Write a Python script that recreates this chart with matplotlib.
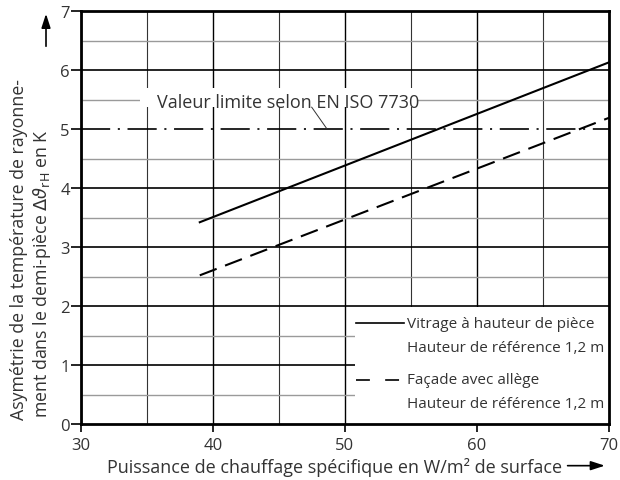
import matplotlib
matplotlib.use("Agg")
import matplotlib.pyplot as plt
from matplotlib.patches import Rectangle, FancyArrowPatch
import numpy as np

# values
x_range = [39, 70]
vitrage = [3.42, 6.13]
facade = [2.52, 5.19]
limit_value = 5.0
x_ticks = [30, 40, 50, 60, 70]
y_ticks = [0, 1, 2, 3, 4, 5, 6, 7]

limit_label = "Valeur limite selon EN ISO 7730"
legend_labels = [("Vitrage à hauteur de pièce", "Hauteur de référence 1,2 m"),
                 ("Façade avec allège", "Hauteur de référence 1,2 m")]
y_label_1 = "Asymétrie de la température de rayonne-"
y_label_2 = r"ment dans le demi-pièce $\Delta\vartheta_{\mathrm{rH}}$ en K"
x_label = "Puissance de chauffage spécifique en W/m² de surface"

plt.rcParams['font.family'] = ['Open Sans', 'DejaVu Sans']
plt.rcParams['mathtext.fontset'] = 'dejavusans'
plt.rcParams['lines.scale_dashes'] = False
txt = '#333333'

fig = plt.figure(figsize=(6.2, 4.81), dpi=100)
ax = fig.add_axes([0.1306, 0.1164, 0.8516, 0.8586])
ax.set_xlim(30, 70)
ax.set_ylim(0, 7)
renderer = fig.canvas.get_renderer()


def fit(t, target, vertical=False):
    # scale the font so the text spans the same number of pixels as in the reference
    bb = t.get_window_extent(renderer)
    size = bb.height if vertical else bb.width
    t.set_fontsize(t.get_fontsize() * target / size)


# grid
for xv in np.arange(30, 71, 5):
    major = xv % 10 == 0
    ax.axvline(xv, color='black' if major else '#333333', lw=1.0 if major else 0.8, zorder=1)
for yv in np.arange(0.5, 7, 0.5):
    if yv == limit_value:
        continue
    major = yv % 1 == 0
    ax.axhline(yv, color='black' if major else '#9a9a9a', lw=1.2 if major else 1.0, zorder=1)

# curves
ax.plot(x_range, vitrage, color='black', lw=1.5, zorder=4)
ax.plot(x_range, facade, color='black', lw=1.5, ls=(0, (13, 6.5)), zorder=4)
ax.axhline(limit_value, color='black', lw=1.2, ls=(0, (21, 5.5, 1.5, 5.5)), zorder=4)

# limit value label with white mask and leader line
ax.add_patch(Rectangle((34.47, 5.37), 21.1, 0.32, fc='white', ec='none', zorder=2))
t = ax.text(35.73, 5.37, limit_label, fontsize=13, color=txt, va='baseline', ha='left', zorder=3)
fit(t, 261)
ax.plot([47.48, 48.61], [5.37, 5.01], color='#333333', lw=0.7, zorder=4)

# legend box (white area in the lower right)
ax.add_patch(Rectangle((50.75, 0), 19.25, 1.985, fc='white', ec='none', zorder=2))
styles = ['-', (0, (10, 11))]
ys = [(1.71, 1.30), (0.746, 0.34)]
probe = ax.text(0, 0, legend_labels[0][1], fontsize=12)
fit(probe, 195)
leg_size = probe.get_fontsize()
probe.remove()
for (l1, l2), st, (y1, y2) in zip(legend_labels, styles, ys):
    ax.plot([50.83, 54.45], [y1, y1], color='black', lw=1.2, ls=st, zorder=4)
    ax.text(54.67, y1, l1, fontsize=leg_size, color=txt, va='center', ha='left', zorder=4)
    ax.text(54.67, y2, l2, fontsize=leg_size, color=txt, va='center', ha='left', zorder=4)

# axes styling
for s in ax.spines.values():
    s.set_linewidth(2.0)
    s.set_zorder(5)
ax.set_xticks(x_ticks)
ax.set_yticks(y_ticks)
ax.tick_params(axis='y', length=7.5, width=1.2, pad=0.5, labelsize=12, labelcolor=txt)
ax.tick_params(axis='x', length=6, width=1.2, pad=3, labelsize=12, labelcolor=txt)

# axis labels and arrows
t1 = fig.text(0.0306, 0.1268, y_label_1, rotation=90, ha='center', va='bottom', fontsize=11, color=txt)
fit(t1, 342, vertical=True)
t2 = fig.text(0.0677, 0.131, y_label_2, rotation=90, ha='center', va='bottom', fontsize=11, color=txt)
t2.set_fontsize(t1.get_fontsize())
tx = fig.text(0.1726, 0.0173, x_label, ha='left', va='baseline', fontsize=13, color=txt)
fit(tx, 455)

fig.add_artist(FancyArrowPatch((0.0742, 0.896), (0.0742, 0.975), transform=fig.transFigure,
                               arrowstyle='-|>,head_length=0.4,head_width=0.13',
                               mutation_scale=21, color='black', lw=1.2))
fig.add_artist(FancyArrowPatch((0.911, 0.0298), (0.980, 0.0298), transform=fig.transFigure,
                               arrowstyle='-|>,head_length=0.4,head_width=0.13',
                               mutation_scale=21, color='black', lw=1.2))

fig.savefig('out.png', dpi=100)
